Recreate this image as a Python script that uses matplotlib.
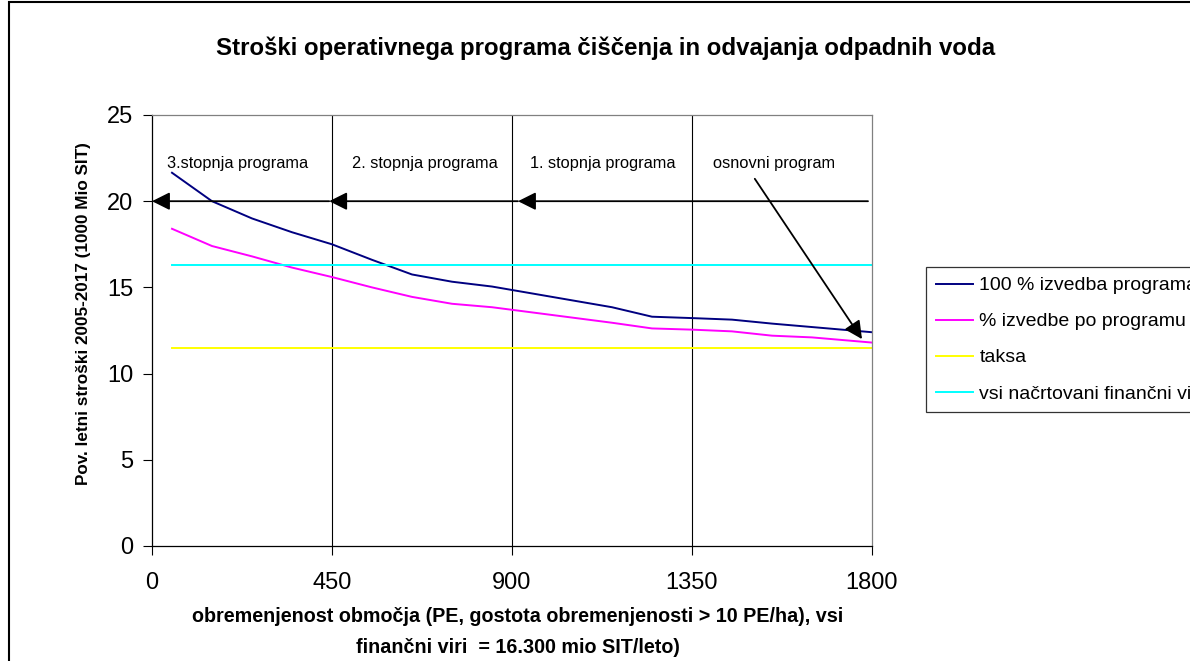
import matplotlib
matplotlib.use("Agg")
import matplotlib.pyplot as plt
from matplotlib.patches import Rectangle

plt.rcParams['font.family'] = ['Liberation Sans', 'DejaVu Sans']

# ---- data ----
x_pe = [50, 150, 250, 350, 450, 550, 650, 750, 850, 950, 1050, 1150,
        1250, 1350, 1450, 1550, 1650, 1750, 1800]
stroski_100 = [21.65, 20.0, 19.0, 18.2, 17.5, 16.6, 15.75, 15.33, 15.05, 14.65,
               14.25, 13.85, 13.3, 13.22, 13.13, 12.9, 12.7, 12.5, 12.4]
stroski_izvedba = [18.4, 17.4, 16.8, 16.15, 15.6, 15.0, 14.45, 14.05, 13.85, 13.55,
                   13.25, 12.95, 12.62, 12.55, 12.45, 12.2, 12.1, 11.9, 11.8]
ravni_x = [50, 1800]
taksa = [11.5, 11.5]
viri = [16.3, 16.3]

labels_series = ['100 % izvedba programa', '% izvedbe po programu', 'taksa',
                 'vsi načrtovani finančni viri']
x_ticks = [0, 450, 900, 1350, 1800]
y_ticks = [0, 5, 10, 15, 20, 25]
stopnje = ['3.stopnja programa', '2. stopnja programa', '1. stopnja programa', 'osnovni program']
stopnje_x = [214, 682, 1126, 1555]
meje = [0, 443, 915]

W, H = 1190, 661
fig = plt.figure(figsize=(W / 100, H / 100), dpi=100)
ax = fig.add_axes([152 / W, 1 - 546 / H, 720 / W, 431 / H])

l1, = ax.plot(x_pe, stroski_100, color='#000080', lw=1.4)
l2, = ax.plot(x_pe, stroski_izvedba, color='#FF00FF', lw=1.4)
l3, = ax.plot(ravni_x, taksa, color='#FFFF00', lw=1.4)
l4, = ax.plot(ravni_x, viri, color='#00FFFF', lw=1.4)

ax.set_xlim(0, 1800)
ax.set_ylim(0, 25)
ax.set_xticks(x_ticks)
ax.set_yticks(y_ticks)
ax.set_xticklabels([str(t) for t in x_ticks])
ax.tick_params(axis='x', direction='out', length=6.5, width=0.8, pad=12, labelsize=17)
ax.tick_params(axis='y', direction='out', length=6.5, width=0.8, pad=7, labelsize=17)
for t in x_ticks[1:-1]:
    ax.axvline(t, color='black', lw=0.8, zorder=1)
for s in ['left', 'bottom']:
    ax.spines[s].set_color('black')
    ax.spines[s].set_linewidth(0.9)
for s in ['top', 'right']:
    ax.spines[s].set_color('#808080')
    ax.spines[s].set_linewidth(0.9)

# stage arrows
ap = dict(arrowstyle='-|>,head_length=0.54,head_width=0.27', mutation_scale=20,
          lw=1.3, color='black', shrinkA=0, shrinkB=0)
start = 1790
for m in reversed(meje):
    ax.annotate('', xy=(m, 20), xytext=(start, 20), arrowprops=ap)
    start = m
ax.annotate('', xy=(1775, 12.0), xytext=(1507, 21.3), arrowprops=ap)

for lab, xx in zip(stopnje, stopnje_x):
    ax.text(xx, 22.2, lab, ha='center', va='center', fontsize=11.8)

# titles
fig.text(606 / W, 1 - 48 / H, 'Stroški operativnega programa čiščenja in odvajanja odpadnih voda',
         ha='center', va='center', fontsize=17.3, fontweight='bold')
fig.text(518 / W, 1 - 632 / H,
         'obremenjenost območja (PE, gostota obremenjenosti > 10 PE/ha), vsi\nfinančni viri  = 16.300 mio SIT/leto)',
         ha='center', va='center', fontsize=14.2, fontweight='bold', linespacing=1.75,
         multialignment='center')
fig.text(84 / W, 1 - 314 / H, 'Pov. letni stroški 2005-2017 (1000 Mio SIT)',
         ha='center', va='center', rotation=90, fontsize=12.3, fontweight='bold')

leg = fig.legend([l1, l2, l3, l4], labels_series, loc='upper left',
                 bbox_to_anchor=(926 / W, 1 - 267 / H), borderaxespad=0,
                 fontsize=14, frameon=True, fancybox=False, edgecolor='black',
                 handlelength=1.9, handletextpad=0.35, borderpad=0.5, labelspacing=0.95)
leg.get_frame().set_linewidth(0.9)

fig.patches.append(Rectangle((9 / W, -0.05), 1.2, 1.05 - 2 / H, transform=fig.transFigure,
                             fill=False, edgecolor='black', lw=1.5))

fig.savefig('out.png', dpi=100, facecolor='white')
